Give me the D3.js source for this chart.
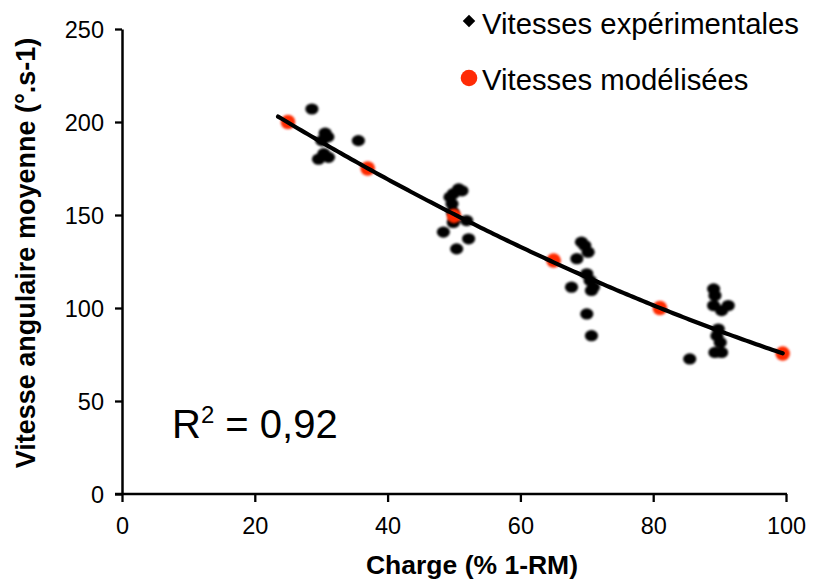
<!DOCTYPE html>
<html>
<head>
<meta charset="utf-8">
<script src="https://cdn.jsdelivr.net/npm/d3@7/dist/d3.min.js"></script>
<style>
  html, body { margin: 0; padding: 0; background: #fff; }
  svg { display: block; font-family: "Liberation Sans", Arial, Helvetica, sans-serif; }
</style>
</head>
<body>
<svg id="chart" width="814" height="580"></svg>
<script>
// Measured angular velocity (°/s) versus load (% 1-RM)
const expLoad = [
  28.6, 30.6, 30.1, 31.0, 29.6, 31.1, 30.4, 35.6,
  50.7, 51.2, 49.9, 49.4, 49.7, 49.8, 51.9, 49.9, 48.4, 52.2, 50.4,
  69.2, 69.7, 70.2, 68.5, 70.0, 70.5, 71.0, 70.7, 67.7, 70.0, 70.7,
  89.1, 89.3, 89.1, 90.3, 91.3, 89.8, 89.6, 90.1, 89.3, 90.3, 85.5
];
const expSpeed = [
  207, 194, 190, 192, 180, 181, 183, 190,
  164, 163, 161.5, 159.6, 156, 151.6, 147, 146, 140.8, 137.2, 131.8,
  135.4, 133.6, 130, 126.5, 118.4, 114.8, 111.2, 109.4, 111.2, 96.8, 85.1,
  110.3, 106.7, 101.3, 98.6, 101.3, 88.7, 85, 81.5, 76.1, 76.1, 72.6
];

// Model predictions
const modLoad = [25, 37, 50, 65, 81, 99.5];
const modSpeed = [200, 175, 149.5, 125.5, 100, 75.5];

// Trend line extent and axis ticks
const trendRange = [23.5, 99.5];
const xTicks = [0, 20, 40, 60, 80, 100];
const yTicks = [0, 50, 100, 150, 200, 250];

const legendLabels = ["Vitesses expérimentales", "Vitesses modélisées"];
const r2Label = "0,92";

const svg = d3.select("#chart");
const x = d3.scaleLinear().domain([0, 100]).range([122, 786]);
const y = d3.scaleLinear().domain([0, 250]).range([494, 29]);

const defs = svg.append("defs");
defs.append("filter").attr("id", "soft")
  .attr("x", "-50%").attr("y", "-50%").attr("width", "200%").attr("height", "200%")
  .append("feGaussianBlur").attr("stdDeviation", 0.8);

// Axes
const xAxis = svg.append("g").attr("transform", `translate(0,${y(0)})`)
  .call(d3.axisBottom(x).tickValues(xTicks).tickSize(8).tickSizeOuter(0).tickPadding(15));
const yAxis = svg.append("g").attr("transform", `translate(${x(0)},0)`)
  .call(d3.axisLeft(y).tickValues(yTicks).tickSize(7).tickSizeOuter(0).tickPadding(11));

[xAxis, yAxis].forEach(g => {
  g.select(".domain").attr("stroke", "#000").attr("stroke-width", 2.5);
  g.selectAll(".tick line").attr("stroke", "#000").attr("stroke-width", 2.3);
  g.selectAll(".tick text").attr("fill", "#000").attr("font-size", 23.5)
    .attr("font-family", "Liberation Sans, Arial, sans-serif");
});
// x axis runs slightly left of the y axis
xAxis.select(".domain").attr("d", `M${x(0) - 7},0H${x(100) + 1}`);
xAxis.selectAll(".tick text").attr("dy", "0.71em");
yAxis.selectAll(".tick text").attr("dy", "0.36em");

// Axis titles
svg.append("text")
  .attr("x", 472).attr("y", 574)
  .attr("text-anchor", "middle")
  .attr("font-weight", "bold").attr("font-size", 26.5)
  .text("Charge (% 1-RM)");

svg.append("text")
  .attr("transform", `translate(35,253) rotate(-90)`)
  .attr("text-anchor", "middle")
  .attr("font-weight", "bold").attr("font-size", 27)
  .text("Vitesse angulaire moyenne (°.s-1)");

// Experimental points
const expData = expLoad.map((v, i) => ({ load: v, speed: expSpeed[i] }));
svg.append("g").attr("filter", "url(#soft)")
  .selectAll("ellipse").data(expData).join("ellipse")
  .attr("cx", d => x(d.load)).attr("cy", d => y(d.speed))
  .attr("rx", 6.6).attr("ry", 5.6)
  .attr("fill", "#000");

// Model points
const modData = modLoad.map((v, i) => ({ load: v, speed: modSpeed[i] }));
svg.append("g").attr("filter", "url(#soft)")
  .selectAll("circle").data(modData).join("circle")
  .attr("cx", d => x(d.load)).attr("cy", d => y(d.speed))
  .attr("r", 7.3)
  .attr("fill", "#ff2b06");

// Second-order polynomial trend fitted to the model points (least squares)
function quadFit(xs, ys) {
  const n = xs.length;
  let s = [0, 0, 0, 0, 0], t = [0, 0, 0];
  for (let i = 0; i < n; i++) {
    let p = 1;
    for (let k = 0; k < 5; k++) { s[k] += p; if (k < 3) t[k] += p * ys[i]; p *= xs[i]; }
  }
  const A = [[s[0], s[1], s[2], t[0]], [s[1], s[2], s[3], t[1]], [s[2], s[3], s[4], t[2]]];
  for (let c = 0; c < 3; c++) {
    for (let r = c + 1; r < 3; r++) {
      const f = A[r][c] / A[c][c];
      for (let k = c; k < 4; k++) A[r][k] -= f * A[c][k];
    }
  }
  const b = [0, 0, 0];
  for (let r = 2; r >= 0; r--) {
    let v = A[r][3];
    for (let k = r + 1; k < 3; k++) v -= A[r][k] * b[k];
    b[r] = v / A[r][r];
  }
  return xv => b[0] + b[1] * xv + b[2] * xv * xv;
}
const trend = quadFit(modLoad, modSpeed);
const trendX = d3.range(trendRange[0], trendRange[1] + 0.001, 0.5);
svg.append("path")
  .datum(trendX)
  .attr("fill", "none").attr("stroke", "#000").attr("stroke-width", 4.2)
  .attr("stroke-linecap", "round")
  .attr("d", d3.line().x(d => x(d)).y(d => y(trend(d))));

// R² annotation
const r2 = svg.append("text").attr("x", 172).attr("y", 438).attr("font-size", 40);
r2.append("tspan").text("R");
r2.append("tspan").attr("font-size", 24).attr("dy", -15).text("2");
r2.append("tspan").attr("dy", 15).text(" = " + r2Label);

// Legend
const legend = svg.append("g");
legend.append("path")
  .attr("d", d3.symbol().type(d3.symbolDiamond2).size(100)())
  .attr("transform", "translate(469,21)")
  .attr("fill", "#000");
legend.append("circle").attr("cx", 469).attr("cy", 78).attr("r", 8.3).attr("fill", "#ff2b06");
legend.selectAll("text").data(legendLabels).join("text")
  .attr("x", 482).attr("y", (d, i) => 34 + i * 56)
  .attr("font-size", 29.3)
  .text(d => d);
</script>
</body>
</html>
